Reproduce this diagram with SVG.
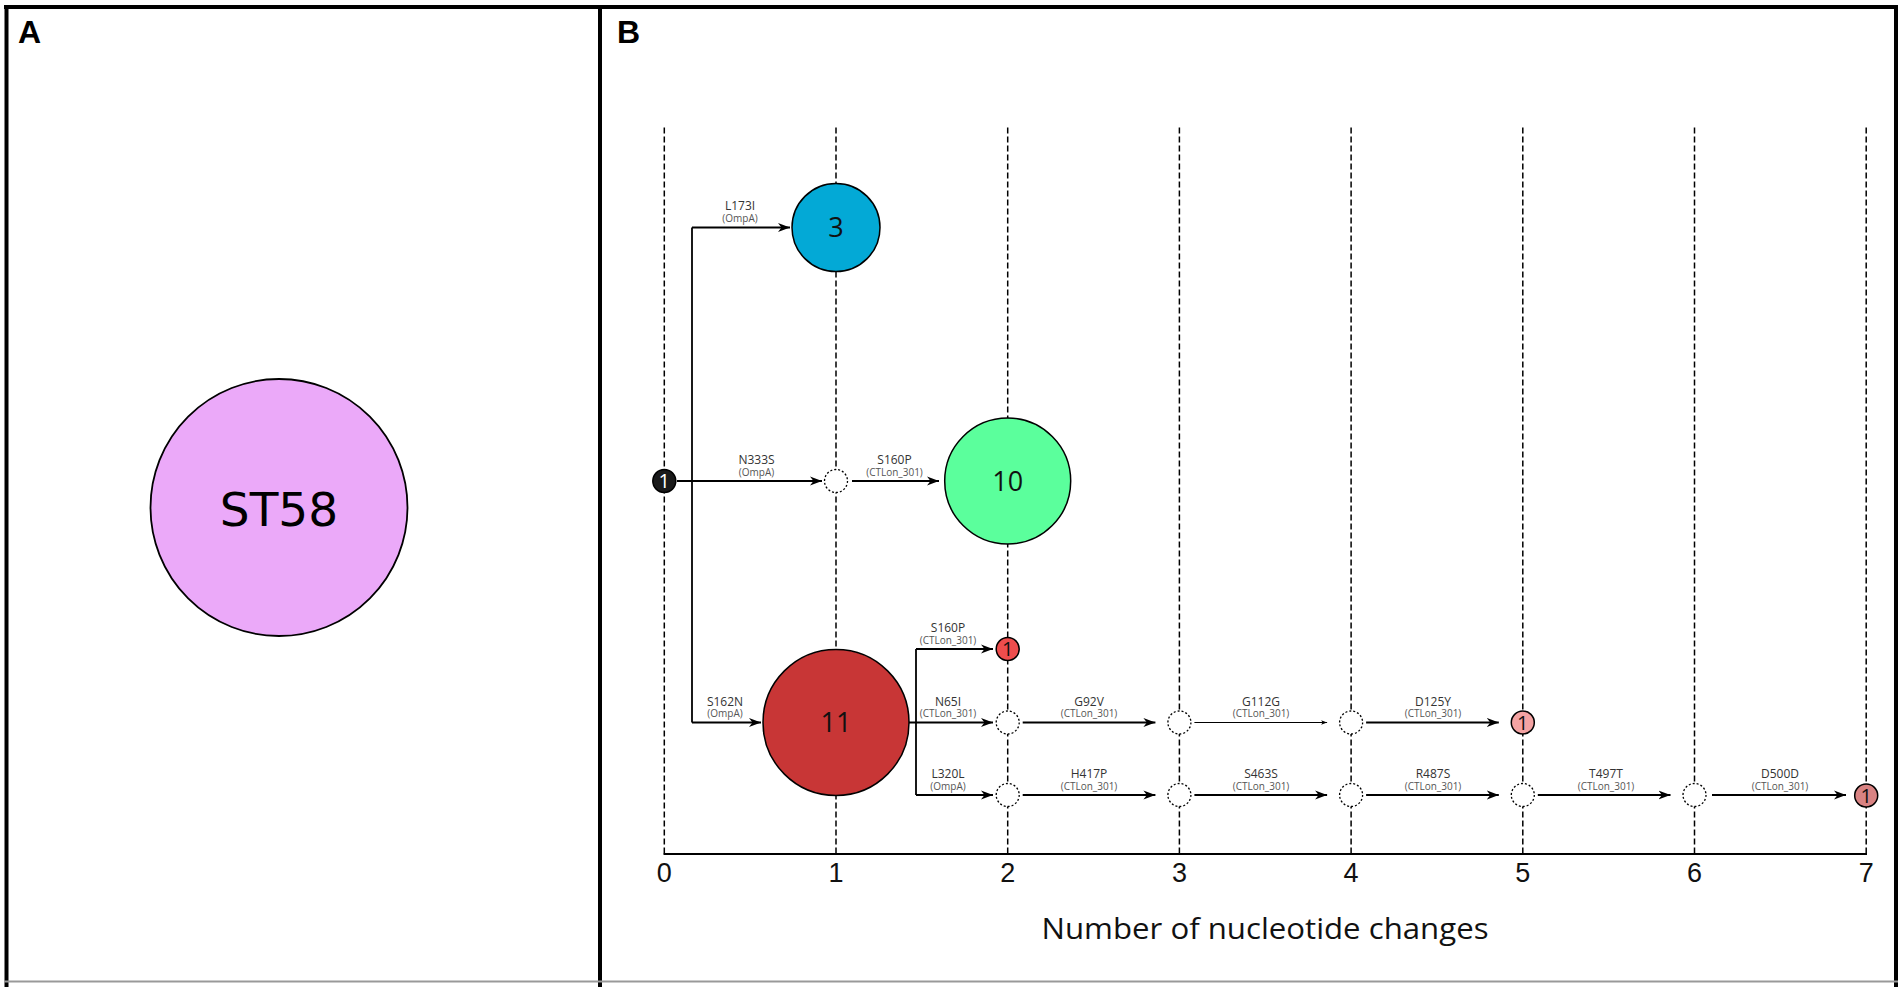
<svg xmlns="http://www.w3.org/2000/svg" width="1904" height="987" viewBox="0 0 1904 987">
<defs>
<marker id="ah" markerUnits="userSpaceOnUse" markerWidth="14" markerHeight="10" refX="12" refY="5" orient="auto"><path d="M0,0.5 L12,5 L0,9.5 L3.5,5 z" fill="#000"/></marker>
<marker id="ahs" markerUnits="userSpaceOnUse" markerWidth="8" markerHeight="6" refX="6" refY="3" orient="auto"><path d="M0,0.8 L6,3 L0,5.2 L1.5,3 z" fill="#000"/></marker>
</defs>
<style>
.frame{stroke:#000;stroke-width:4;fill:none}
.grid{stroke:#000;stroke-width:1.5;stroke-dasharray:6 3;fill:none}
.edge{stroke:#000;stroke-width:1.8;fill:none;marker-end:url(#ah)}
.thin{stroke:#000;stroke-width:1.1;fill:none;marker-end:url(#ahs)}
.trunk{stroke:#000;stroke-width:1.8;fill:none}
.lbl{font-family:"Open Sans",sans-serif;font-size:12px;fill:#333;text-anchor:middle}
.sub{font-family:"Open Sans",sans-serif;font-size:10px;fill:#555;text-anchor:middle}
.node{stroke:#000;stroke-width:1.5}
.empty{fill:#fff;stroke:#000;stroke-width:1.3;stroke-dasharray:2 2}
.num{font-family:"Open Sans",sans-serif;text-anchor:middle;fill:#111;font-size:27px}
.small{font-family:"Open Sans",sans-serif;text-anchor:middle;fill:#111;font-size:20px}
.tick{font-family:"Liberation Sans",Arial,sans-serif;font-size:27px;text-anchor:middle;fill:#111}
.panel{font-family:"Liberation Sans",Arial,sans-serif;font-size:32px;font-weight:bold;fill:#000}
</style>
<rect width="1904" height="987" fill="#fff"/>
<g id="frame">
<line class="frame" x1="4" y1="7" x2="1898" y2="7"/>
<line class="frame" x1="6.5" y1="5" x2="6.5" y2="987"/>
<line class="frame" x1="1896" y1="5" x2="1896" y2="987"/>
<line class="frame" x1="600" y1="5" x2="600" y2="987"/>
<line x1="4" y1="981.5" x2="1898" y2="981.5" stroke="#999" stroke-width="2"/>
<text class="panel" x="18" y="43">A</text>
<text class="panel" x="617" y="43">B</text>
</g>
<g id="st58">
<circle cx="279" cy="507.5" r="128.5" fill="#EBA9F9" stroke="#000" stroke-width="1.8"/>
<text x="279" y="525.5" font-family="DejaVu Sans,sans-serif" font-size="47" text-anchor="middle" fill="#000">ST58</text>
</g>
<g id="axis">
<line class="grid" x1="664.3" y1="127.5" x2="664.3" y2="854"/>
<line class="grid" x1="836" y1="127.5" x2="836" y2="854"/>
<line class="grid" x1="1007.7" y1="127.5" x2="1007.7" y2="854"/>
<line class="grid" x1="1179.4" y1="127.5" x2="1179.4" y2="854"/>
<line class="grid" x1="1351.1" y1="127.5" x2="1351.1" y2="854"/>
<line class="grid" x1="1522.8" y1="127.5" x2="1522.8" y2="854"/>
<line class="grid" x1="1694.5" y1="127.5" x2="1694.5" y2="854"/>
<line class="grid" x1="1866.2" y1="127.5" x2="1866.2" y2="854"/>
<line x1="663.5" y1="854" x2="1867" y2="854" stroke="#000" stroke-width="2"/>
<text class="tick" x="664.3" y="882">0</text>
<text class="tick" x="836" y="882">1</text>
<text class="tick" x="1007.7" y="882">2</text>
<text class="tick" x="1179.4" y="882">3</text>
<text class="tick" x="1351.1" y="882">4</text>
<text class="tick" x="1522.8" y="882">5</text>
<text class="tick" x="1694.5" y="882">6</text>
<text class="tick" x="1866.2" y="882">7</text>
<text x="1265" y="939" font-family="Open Sans,sans-serif" font-size="30" text-anchor="middle" fill="#111" textLength="447" lengthAdjust="spacingAndGlyphs">Number of nucleotide changes</text>
</g>
<g id="connectors">
<path class="trunk" d="M692,227.5 V722.5"/>
<path class="edge" d="M692,227.5 H790"/>
<path class="edge" d="M692,722.5 H761"/>
<path class="edge" d="M677,481 H822"/>
<path class="edge" d="M852,481 H939"/>
<path class="trunk" d="M916,649 V795"/>
<path class="edge" d="M909,722.5 H993"/>
<path class="edge" d="M916,649 H993"/>
<path class="edge" d="M916,795 H993"/>
<path class="edge" d="M1022.7,722.5 H1155.4"/>
<path class="thin" d="M1194.4,722.5 H1327.1"/>
<path class="edge" d="M1366.1,722.5 H1498.8"/>
<path class="edge" d="M1022.7,795 H1155.4"/>
<path class="edge" d="M1194.4,795 H1327.1"/>
<path class="edge" d="M1366.1,795 H1498.8"/>
<path class="edge" d="M1537.8,795 H1670.5"/>
<path class="edge" d="M1712,795 H1846"/>
</g>
<g id="edge-labels">
<text class="lbl" x="740" y="209.5">L173I</text><text class="sub" x="740" y="221.5">(OmpA)</text>
<text class="lbl" x="756.5" y="464">N333S</text><text class="sub" x="756.5" y="475.5">(OmpA)</text>
<text class="lbl" x="894.5" y="464">S160P</text><text class="sub" x="894.5" y="475.5">(CTLon_301)</text>
<text class="lbl" x="725" y="705.5">S162N</text><text class="sub" x="725" y="717">(OmpA)</text>
<text class="lbl" x="948" y="632">S160P</text><text class="sub" x="948" y="643.5">(CTLon_301)</text>
<text class="lbl" x="948" y="705.5">N65I</text><text class="sub" x="948" y="717">(CTLon_301)</text>
<text class="lbl" x="1089" y="705.5">G92V</text><text class="sub" x="1089" y="717">(CTLon_301)</text>
<text class="lbl" x="1261" y="705.5">G112G</text><text class="sub" x="1261" y="717">(CTLon_301)</text>
<text class="lbl" x="1433" y="705.5">D125Y</text><text class="sub" x="1433" y="717">(CTLon_301)</text>
<text class="lbl" x="948" y="778">L320L</text><text class="sub" x="948" y="789.5">(OmpA)</text>
<text class="lbl" x="1089" y="778">H417P</text><text class="sub" x="1089" y="789.5">(CTLon_301)</text>
<text class="lbl" x="1261" y="778">S463S</text><text class="sub" x="1261" y="789.5">(CTLon_301)</text>
<text class="lbl" x="1433" y="778">R487S</text><text class="sub" x="1433" y="789.5">(CTLon_301)</text>
<text class="lbl" x="1606" y="778">T497T</text><text class="sub" x="1606" y="789.5">(CTLon_301)</text>
<text class="lbl" x="1780" y="778">D500D</text><text class="sub" x="1780" y="789.5">(CTLon_301)</text>
</g>
<g id="node-root"><circle class="node" cx="664.3" cy="481" r="11.5" fill="#1a1a1a"/><text class="small" x="664.3" y="488" style="fill:#fff">1</text></g>
<g id="node-3"><circle class="node" cx="836" cy="227.5" r="44" fill="#03A9D6"/><text class="num" x="836" y="237">3</text></g>
<g id="node-10"><circle class="node" cx="1007.7" cy="481" r="63" fill="#5BFF9C"/><text class="num" x="1007.7" y="490.5">10</text></g>
<g id="node-11"><circle class="node" cx="836" cy="722.5" r="73" fill="#C83636"/><text class="num" x="836" y="732">11</text></g>
<g id="node-r3"><circle class="node" cx="1007.7" cy="649" r="11.5" fill="#EE4D4D"/><text class="small" x="1007.7" y="656">1</text></g>
<g id="node-r4"><circle class="node" cx="1522.8" cy="722.5" r="11.5" fill="#F4A3A3"/><text class="small" x="1522.8" y="729.5">1</text></g>
<g id="node-r5"><circle class="node" cx="1866.2" cy="795.5" r="11.5" fill="#D98383"/><text class="small" x="1866.2" y="802.5">1</text></g>
<g id="hidden-nodes">
<circle class="empty" cx="836" cy="481" r="11.5"/>
<circle class="empty" cx="1007.7" cy="722.5" r="11.5"/>
<circle class="empty" cx="1179.4" cy="722.5" r="11.5"/>
<circle class="empty" cx="1351.1" cy="722.5" r="11.5"/>
<circle class="empty" cx="1007.7" cy="795" r="11.5"/>
<circle class="empty" cx="1179.4" cy="795" r="11.5"/>
<circle class="empty" cx="1351.1" cy="795" r="11.5"/>
<circle class="empty" cx="1522.8" cy="795" r="11.5"/>
<circle class="empty" cx="1694.5" cy="795" r="11.5"/>
</g>
</svg>
